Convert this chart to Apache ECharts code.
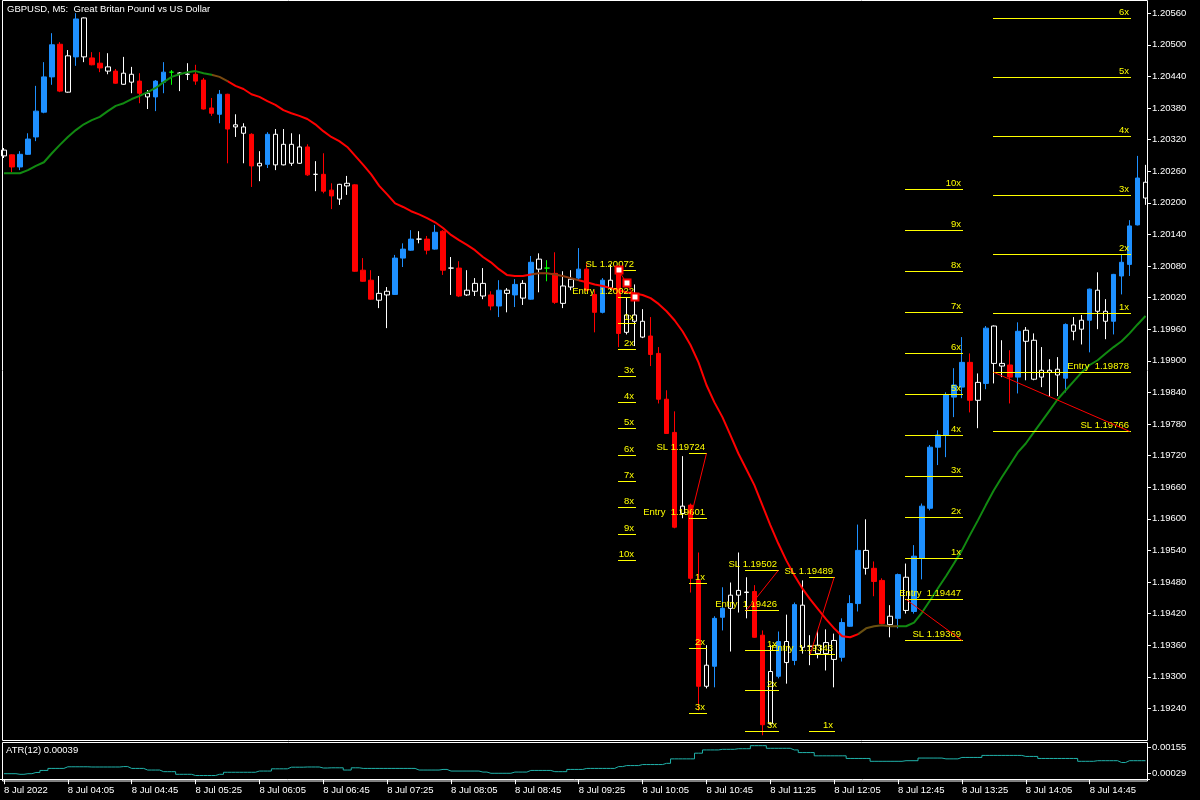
<!DOCTYPE html>
<html><head><meta charset="utf-8">
<script src="https://cdn.jsdelivr.net/npm/echarts@6/dist/echarts.min.js"></script>
<style>html,body{margin:0;padding:0;background:#000;}#c{width:1200px;height:800px;}</style>
</head><body><div id="c"></div>
<script>
const FONT = "'Liberation Sans',Arial,sans-serif";

const tickLabels = ['8 Jul 2022','8 Jul 04:05','8 Jul 04:45','8 Jul 05:25','8 Jul 06:05','8 Jul 06:45','8 Jul 07:25','8 Jul 08:05','8 Jul 08:45','8 Jul 09:25','8 Jul 10:05','8 Jul 10:45','8 Jul 11:25','8 Jul 12:05','8 Jul 12:45','8 Jul 13:25','8 Jul 14:05','8 Jul 14:45'];
const priceTicks = [1.19240,1.19300,1.19360,1.19420,1.19480,1.19540,1.19600,1.19660,1.19720,1.19780,1.19840,1.19900,1.19960,1.20020,1.20080,1.20140,1.20200,1.20260,1.20320,1.20380,1.20440,1.20500,1.20560];
const atrTicks = [0.00029, 0.00155];

const opens = [1.20289,1.20291,1.20268,1.20292,1.20325,1.20372,1.20439,1.20501,1.20479,1.20477,
1.20477,1.20475,1.20465,1.20450,1.20450,1.20446,1.20429,1.20431,1.20401,1.20401,
1.20429,1.20448,1.20446,1.20444,1.20444,1.20433,1.20380,1.20368,1.20406,1.20348,
1.20332,1.20330,1.20275,1.20273,1.20272,1.20311,1.20275,1.20306,1.20306,1.20254,
1.20254,1.20224,1.20235,1.20232,1.20234,1.20072,1.20053,1.20028,1.20032,1.20026,
1.20095,1.20110,1.20131,1.20131,1.20112,1.20146,1.20076,1.20076,1.20034,1.20047,
1.20023,1.20025,1.20004,1.20028,1.20025,1.20019,1.20017,1.20074,1.20076,1.20066,
1.20042,1.20055,1.20057,1.20074,1.20026,1.19992,1.20038,1.20070,1.19987,1.19975,
1.19945,1.19947,1.19914,1.19827,1.19764,1.19624,1.19626,1.19483,1.19322,1.19320,
1.19413,1.19455,1.19464,1.19461,1.19462,1.19379,1.19310,1.19301,1.19327,1.19331,
1.19356,1.19358,1.19344,1.19365,1.19333,1.19337,1.19396,1.19439,1.19506,1.19506,
1.19483,1.19415,1.19411,1.19426,1.19424,1.19525,1.19620,1.19736,1.19759,1.19831,
1.19850,1.19897,1.19859,1.19857,1.19895,1.19890,1.19892,1.19869,1.19937,1.19865,
1.19882,1.19882,1.19873,1.19867,1.19956,1.19977,1.19977,1.19994,1.19975,1.19975,
1.20061,1.20083,1.20158,1.20209];
const highs = [1.20304,1.20292,1.20298,1.20332,1.20422,1.20467,1.20522,1.20505,1.20490,1.20560,
1.20552,1.20486,1.20486,1.20484,1.20454,1.20477,1.20458,1.20446,1.20414,1.20433,
1.20467,1.20452,1.20448,1.20465,1.20462,1.20437,1.20399,1.20414,1.20407,1.20368,
1.20351,1.20332,1.20298,1.20334,1.20340,1.20340,1.20332,1.20330,1.20311,1.20279,
1.20294,1.20237,1.20236,1.20251,1.20235,1.20095,1.20072,1.20061,1.20040,1.20101,
1.20123,1.20148,1.20146,1.20137,1.20158,1.20148,1.20097,1.20089,1.20072,1.20057,
1.20076,1.20032,1.20053,1.20038,1.20055,1.20053,1.20099,1.20104,1.20091,1.20106,
1.20070,1.20072,1.20114,1.20085,1.20034,1.20057,1.20082,1.20078,1.20021,1.20045,
1.19998,1.19983,1.19926,1.19844,1.19804,1.19719,1.19629,1.19536,1.19360,1.19415,
1.19470,1.19479,1.19536,1.19489,1.19474,1.19388,1.19360,1.19386,1.19418,1.19441,
1.19483,1.19379,1.19388,1.19390,1.19382,1.19411,1.19455,1.19589,1.19599,1.19519,
1.19487,1.19436,1.19496,1.19515,1.19550,1.19629,1.19740,1.19768,1.19840,1.19886,
1.19945,1.19914,1.19876,1.19966,1.19967,1.19939,1.19920,1.19973,1.19964,1.19952,
1.19926,1.19903,1.19907,1.19971,1.19983,1.19987,1.20037,1.20068,1.20017,1.20065,
1.20101,1.20167,1.20289,1.20272];
const lows = [1.20285,1.20258,1.20262,1.20291,1.20317,1.20370,1.20424,1.20410,1.20409,1.20460,
1.20467,1.20461,1.20448,1.20444,1.20426,1.20424,1.20408,1.20389,1.20378,1.20374,
1.20408,1.20424,1.20412,1.20433,1.20424,1.20377,1.20365,1.20351,1.20275,1.20325,
1.20275,1.20230,1.20241,1.20266,1.20262,1.20271,1.20270,1.20274,1.20251,1.20222,
1.20218,1.20188,1.20196,1.20215,1.20069,1.20050,1.20016,1.20000,1.19962,1.20025,
1.20078,1.20109,1.20123,1.20102,1.20111,1.20063,1.20025,1.20021,1.20023,1.20023,
1.20017,1.19996,1.19983,1.19992,1.20002,1.20006,1.20016,1.20030,1.20051,1.20008,
1.20000,1.20034,1.20053,1.20032,1.19954,1.19990,1.20034,1.19926,1.19950,1.19928,
1.19943,1.19890,1.19819,1.19761,1.19582,1.19601,1.19460,1.19236,1.19278,1.19280,
1.19388,1.19348,1.19422,1.19411,1.19374,1.19189,1.19208,1.19297,1.19287,1.19322,
1.19344,1.19322,1.19335,1.19312,1.19280,1.19329,1.19395,1.19424,1.19494,1.19453,
1.19400,1.19375,1.19392,1.19420,1.19420,1.19485,1.19616,1.19702,1.19717,1.19793,
1.19829,1.19802,1.19772,1.19846,1.19857,1.19869,1.19819,1.19838,1.19863,1.19863,
1.19850,1.19833,1.19833,1.19840,1.19939,1.19931,1.19916,1.19960,1.19941,1.19950,
1.20026,1.20061,1.20157,1.20196];
const closes = [1.20300,1.20268,1.20292,1.20321,1.20374,1.20439,1.20500,1.20412,1.20410,1.20549,
1.20551,1.20462,1.20456,1.20458,1.20427,1.20425,1.20444,1.20408,1.20408,1.20431,
1.20448,1.20448,1.20446,1.20444,1.20431,1.20378,1.20370,1.20406,1.20340,1.20344,
1.20344,1.20270,1.20270,1.20330,1.20330,1.20272,1.20311,1.20275,1.20253,1.20254,
1.20222,1.20213,1.20207,1.20237,1.20070,1.20051,1.20017,1.20015,1.20025,1.20095,
1.20112,1.20131,1.20131,1.20110,1.20144,1.20072,1.20076,1.20023,1.20025,1.20032,
1.20047,1.20004,1.20034,1.20034,1.20045,1.20047,1.20087,1.20093,1.20076,1.20011,
1.20009,1.20040,1.20074,1.20034,1.19992,1.20053,1.20053,1.19952,1.19954,1.19987,
1.19975,1.19912,1.19827,1.19762,1.19584,1.19610,1.19487,1.19282,1.19282,1.19411,
1.19430,1.19430,1.19455,1.19460,1.19375,1.19209,1.19211,1.19367,1.19367,1.19437,
1.19436,1.19358,1.19360,1.19344,1.19369,1.19403,1.19439,1.19540,1.19540,1.19481,
1.19401,1.19399,1.19494,1.19489,1.19529,1.19624,1.19736,1.19759,1.19835,1.19854,
1.19897,1.19825,1.19825,1.19962,1.19966,1.19895,1.19869,1.19956,1.19958,1.19939,
1.19869,1.19878,1.19884,1.19969,1.19968,1.19960,1.20036,1.20034,1.19994,1.20064,
1.20087,1.20156,1.20247,1.20239];
// b = blue, r = red, w = white (hollow when rising), g = green
const candleColors = 'wrbbbbbrwb' + 'wrrwrwwrwb' + 'bgwwrrrbrw' + 'wrwbwwwwrw' + 'rrwwrrrwwb' +
  'bbwrbrwrww' + 'wrbwbwbwgr' + 'wwbrrbwrww' + 'wrrrrwrrwb' + 'bwwwrrwbwb' +
  'wwwwwbbbwr' + 'rwbwbbbbbb' + 'brwbwwrbww' + 'wwwbwwbwwb' + 'bbbw';

const maValues = [1.20256,1.20256,1.20256,1.20262,1.20270,1.20277,1.20294,1.20310,1.20325,1.20338,
1.20349,1.20357,1.20363,1.20374,1.20384,1.20389,1.20397,1.20403,1.20410,1.20418,
1.20429,1.20439,1.20444,1.20448,1.20450,1.20446,1.20443,1.20439,1.20431,1.20422,
1.20416,1.20406,1.20401,1.20393,1.20386,1.20376,1.20370,1.20365,1.20359,1.20349,
1.20336,1.20325,1.20317,1.20306,1.20289,1.20272,1.20254,1.20232,1.20216,1.20199,
1.20192,1.20184,1.20178,1.20171,1.20163,1.20152,1.20139,1.20129,1.20120,1.20110,
1.20097,1.20087,1.20074,1.20063,1.20061,1.20061,1.20064,1.20066,1.20066,1.20064,
1.20061,1.20057,1.20053,1.20049,1.20045,1.20042,1.20038,1.20034,1.20030,1.20028,
1.20025,1.20019,1.20008,1.19994,1.19977,1.19956,1.19930,1.19897,1.19854,1.19821,
1.19793,1.19759,1.19724,1.19694,1.19664,1.19626,1.19588,1.19553,1.19521,1.19493,
1.19468,1.19447,1.19428,1.19409,1.19392,1.19377,1.19375,1.19381,1.19392,1.19396,
1.19398,1.19396,1.19396,1.19396,1.19403,1.19422,1.19445,1.19468,1.19491,1.19515,
1.19540,1.19569,1.19597,1.19626,1.19654,1.19679,1.19702,1.19726,1.19743,1.19764,
1.19785,1.19806,1.19827,1.19844,1.19861,1.19878,1.19892,1.19901,1.19914,1.19926,
1.19937,1.19952,1.19969,1.19985];

const atrValues = [0.00027,0.00027,0.00024,0.00027,0.00033,0.00043,0.00053,0.00053,0.00061,0.00061,
0.00061,0.00060,0.00060,0.00060,0.00060,0.00062,0.00053,0.00053,0.00045,0.00045,
0.00037,0.00037,0.00024,0.00024,0.00018,0.00018,0.00018,0.00024,0.00034,0.00034,
0.00034,0.00034,0.00040,0.00040,0.00051,0.00051,0.00059,0.00059,0.00060,0.00060,
0.00055,0.00056,0.00056,0.00045,0.00056,0.00053,0.00053,0.00053,0.00053,0.00053,
0.00053,0.00053,0.00045,0.00045,0.00045,0.00048,0.00040,0.00040,0.00040,0.00040,
0.00035,0.00029,0.00029,0.00029,0.00035,0.00035,0.00043,0.00043,0.00043,0.00037,
0.00037,0.00048,0.00048,0.00053,0.00053,0.00053,0.00053,0.00062,0.00067,0.00067,
0.00072,0.00072,0.00072,0.00078,0.00100,0.00100,0.00100,0.00128,0.00144,0.00144,
0.00147,0.00147,0.00150,0.00150,0.00165,0.00165,0.00152,0.00152,0.00152,0.00144,
0.00131,0.00131,0.00115,0.00115,0.00115,0.00115,0.00102,0.00102,0.00102,0.00088,
0.00088,0.00088,0.00088,0.00091,0.00091,0.00104,0.00104,0.00104,0.00100,0.00100,
0.00107,0.00107,0.00107,0.00117,0.00117,0.00117,0.00117,0.00117,0.00112,0.00112,
0.00102,0.00102,0.00102,0.00102,0.00102,0.00088,0.00088,0.00091,0.00091,0.00091,
0.00082,0.00091,0.00091,0.00091];

// Trade setups (bar indexes for start/end of the level lines)
const setupStart = [77, 86, 93, 101, 113, 124];
const setupEnd = [79, 88, 97, 104, 120, 141];
const setupEntry = [1.20022, 1.19601, 1.19426, 1.19343, 1.19447, 1.19878];
const setupSL = [1.20072, 1.19724, 1.19502, 1.19489, 1.19369, 1.19766];
const setupLevels = [10, 3, 3, 1, 10, 6];
const setupSelected = [1, 0, 0, 0, 0, 0];

const N = opens.length;
const categories = [];
for (let i = 0; i < N; i++) {
  const m = 3 * 60 + 25 + 5 * i;
  categories.push(String(Math.floor(m / 60)).padStart(2, '0') + ':' + String(m % 60).padStart(2, '0'));
}
const palette = { b: '#1e90ff', r: '#ff0000', g: '#00ff00' };
const candleData = opens.map((o, i) => {
  const code = candleColors[i];
  let st;
  if (code === 'w') st = { color: '#000000', color0: '#ffffff', borderColor: '#ffffff', borderColor0: '#ffffff' };
  else { const p = palette[code]; st = { color: p, color0: p, borderColor: p, borderColor0: p }; }
  return { value: [o, closes[i], lows[i], highs[i]], itemStyle: st };
});
const setupData = setupStart.map((s, i) => [s, setupEnd[i], setupEntry[i], setupSL[i], setupLevels[i], setupSelected[i]]);

function renderSetup(params, api) {
  const s = api.value(0), e = api.value(1), entry = api.value(2), sl = api.value(3), n = api.value(4), sel = api.value(5);
  const kids = [];
  const yellow = '#ffff00';
  const hl = (price, label) => {
    const a = api.coord([s, price]), b = api.coord([e, price]);
    const y = Math.round(a[1]) + 0.5;
    kids.push({ type: 'line', shape: { x1: Math.round(a[0]) - 1, y1: y, x2: Math.round(b[0]) + 1, y2: y }, style: { stroke: yellow, lineWidth: 1 } });
    kids.push({ type: 'text', x: Math.round(b[0]) - 1, y: y - 1, style: { text: label, fill: yellow, font: '9.5px ' + FONT, align: 'right', verticalAlign: 'bottom' } });
  };
  hl(sl, 'SL ' + sl.toFixed(5));
  hl(entry, 'Entry  ' + entry.toFixed(5));
  const risk = entry - sl;
  for (let k = 1; k <= n; k++) hl(entry + k * risk, k + 'x');
  let p1, p2;
  if (sel) { p1 = api.coord([s, sl]); p2 = api.coord([e, entry]); }
  else { p1 = api.coord([s, entry]); p2 = api.coord([e, sl]); }
  kids.push({ type: 'line', shape: { x1: p1[0], y1: p1[1], x2: p2[0], y2: p2[1] }, style: { stroke: '#ff0000', lineWidth: 1 } });
  if (sel) {
    const pm = api.coord([(s + e) / 2, (sl + entry) / 2]);
    [p1, pm, p2].forEach(p => kids.push({ type: 'rect', shape: { x: Math.round(p[0]) - 3.5, y: Math.round(p[1]) - 3.5, width: 7, height: 7 }, style: { fill: '#ffffff', stroke: '#ff0000', lineWidth: 2 } }));
  }
  return { type: 'group', children: kids };
}

const chart = echarts.init(document.getElementById('c'), null, { renderer: 'canvas' });
const GL = -0.5, GR = 50.5;
chart.setOption({
  backgroundColor: '#000000',
  animation: false,
  textStyle: { fontFamily: FONT },
  grid: [
    { left: GL, right: GR, top: 0, height: 740 },
    { left: GL, right: GR, top: 742, height: 39 }
  ],
  xAxis: [
    { type: 'category', gridIndex: 0, data: categories, boundaryGap: true, show: false },
    { type: 'category', gridIndex: 1, data: categories, boundaryGap: true,
      axisLine: { show: true, lineStyle: { color: '#ffffff', width: 1 } },
      axisTick: { show: true, alignWithLabel: true, length: 5, interval: (i) => i % 8 === 0, lineStyle: { color: '#ffffff' } },
      axisLabel: { show: true, interval: (i) => i % 8 === 0, color: '#ffffff', fontSize: 9.5, fontFamily: FONT, align: 'left', margin: 4,
        formatter: (v, i) => (i % 8 === 0 ? tickLabels[i / 8] : '') },
      splitLine: { show: false } }
  ],
  yAxis: [
    { type: 'value', gridIndex: 0, position: 'right', offset: -2.5, min: 1.19180, max: 1.20585, scale: true,
      axisLine: { show: false }, splitLine: { show: false },
      axisTick: { show: true, length: 4, customValues: priceTicks, lineStyle: { color: '#ffffff' } },
      axisLabel: { show: true, customValues: priceTicks, color: '#ffffff', fontSize: 9.5, fontFamily: FONT, margin: 5, formatter: (v) => v.toFixed(5) } },
    { type: 'value', gridIndex: 1, position: 'right', offset: -2.5, min: -0.00009, max: 0.00183,
      axisLine: { show: false }, splitLine: { show: false },
      axisTick: { show: true, length: 4, customValues: atrTicks, lineStyle: { color: '#ffffff' } },
      axisLabel: { show: true, customValues: atrTicks, color: '#ffffff', fontSize: 9.5, fontFamily: FONT, margin: 5, formatter: (v) => v.toFixed(5) } }
  ],
  visualMap: {
    type: 'piecewise', show: false, dimension: 0, seriesIndex: 1,
    pieces: [
      { lt: 25.5, color: '#118a11' },
      { gte: 25.5, lt: 27.5, color: '#7a4a10' },
      { gte: 27.5, lt: 65.5, color: '#ff0000' },
      { gte: 65.5, lt: 71.5, color: '#8a3a10' },
      { gte: 71.5, lt: 106.5, color: '#ff0000' },
      { gte: 106.5, lt: 111.5, color: '#6a5010' },
      { gte: 111.5, color: '#118a11' }
    ]
  },
  series: [
    { type: 'candlestick', xAxisIndex: 0, yAxisIndex: 0, data: candleData, barWidth: 5, z: 2,
      itemStyle: { borderWidth: 1 } },
    { type: 'line', xAxisIndex: 0, yAxisIndex: 0, data: maValues, symbol: 'none', z: 3,
      lineStyle: { width: 2 } },
    { type: 'custom', xAxisIndex: 0, yAxisIndex: 0, data: setupData, renderItem: renderSetup, z: 4,
      encode: { x: [0, 1], y: [2, 3] }, clip: false },
    { type: 'line', xAxisIndex: 1, yAxisIndex: 1, data: atrValues, symbol: 'none', step: 'middle', z: 3,
      lineStyle: { color: '#20b2aa', width: 1 }, itemStyle: { color: '#20b2aa' } }
  ],
  graphic: [
    { type: 'rect', shape: { x: 2.5, y: 0.5, width: 1145, height: 740 }, style: { fill: 'none', stroke: '#ffffff', lineWidth: 1 }, z: 10, silent: true },
    { type: 'rect', shape: { x: 2.5, y: 742.5, width: 1145, height: 38.5 }, style: { fill: 'none', stroke: '#ffffff', lineWidth: 1 }, z: 10, silent: true },
    { type: 'text', left: 7, top: 4, style: { text: 'GBPUSD, M5:  Great Britan Pound vs US Dollar', fill: '#ffffff', font: '9.5px ' + FONT }, z: 11 },
    { type: 'text', left: 6, top: 745, style: { text: 'ATR(12) 0.00039', fill: '#ffffff', font: '9.5px ' + FONT }, z: 11 }
  ]
});
</script>
</body></html>
